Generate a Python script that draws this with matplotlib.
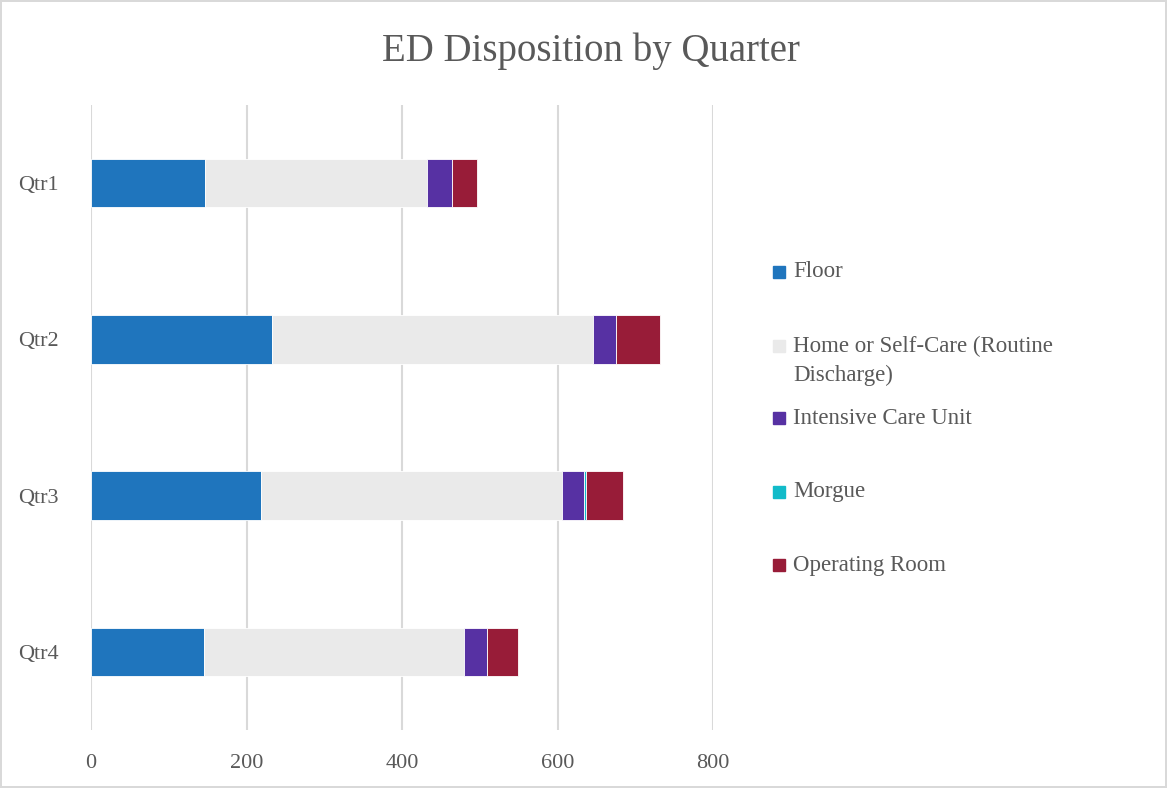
import matplotlib
matplotlib.use("Agg")
import matplotlib.pyplot as plt
import numpy as np
from matplotlib.patches import Rectangle

quarters = ["Qtr1", "Qtr2", "Qtr3", "Qtr4"]
floor = [147, 233, 219, 145]
home = [285, 412, 387, 335]
icu = [32, 30, 28, 29]
morgue = [0, 0, 2, 0]
operating = [32, 57, 48, 40]

series_names = ["Floor", "Home or Self-Care (Routine\nDischarge)",
                "Intensive Care Unit", "Morgue", "Operating Room"]
colors = ["#1F75BD", "#EAEAEA", "#5731A3", "#12BBC9", "#981C38"]

plt.rcParams["font.family"] = ["Liberation Serif", "DejaVu Serif"]
TXT = "#595959"

fig = plt.figure(figsize=(11.67, 7.88), dpi=100)
fig.patch.set_edgecolor("#D9D9D9")
fig.patch.set_linewidth(1.5)
ax = fig.add_axes([0.078, 0.0736, 0.533, 0.7932])

y = np.arange(len(quarters))
left = np.zeros(len(quarters))
for vals, col in zip([floor, home, icu, morgue, operating], colors):
    ax.barh(y, vals, left=left, height=0.31, color=col,
            edgecolor="white", linewidth=0.6, zorder=3)
    left += np.array(vals)

ax.set_xlim(0, 800)
ax.set_ylim(len(quarters) - 0.5, -0.5)
ax.set_xticks([0, 200, 400, 600, 800])
ax.set_yticks(y)
ax.set_yticklabels(quarters)
ax.grid(axis="x", color="#D9D9D9", linewidth=1.5, zorder=0)
for s in ax.spines.values():
    s.set_visible(False)
ax.tick_params(axis="both", length=0, labelsize=16, labelcolor=TXT)
ax.tick_params(axis="x", pad=17)
ax.tick_params(axis="y", pad=23)

fig.text(0.506, 0.935, "ED Disposition by Quarter", ha="center", va="center",
         fontsize=28, color=TXT)

# legend drawn by hand so the wrapped entry keeps its marker on the first line
leg_y = [272, 346, 418, 492, 565]
for name, col, py in zip(series_names, colors, leg_y):
    fy = 1 - py / 788
    fig.patches.append(Rectangle((773 / 1167, fy - 6 / 788), 12 / 1167, 12 / 788,
                                 transform=fig.transFigure, color=col))
    for i, line in enumerate(name.split("\n")):
        fig.text(793 / 1167, fy - i * 29 / 788, line, ha="left", va="center",
                 fontsize=16.5, color=TXT)

fig.savefig("out.png", dpi=100)
